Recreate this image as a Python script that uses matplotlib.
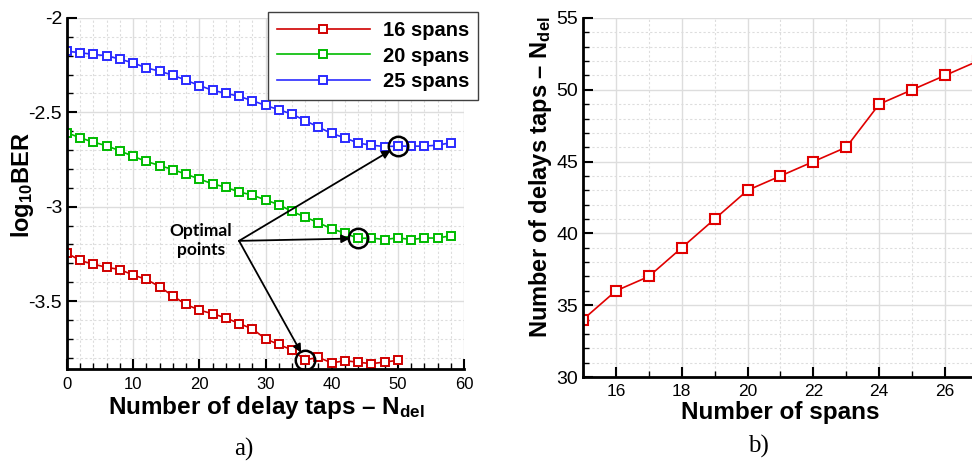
import matplotlib
matplotlib.use('Agg')
import matplotlib.pyplot as plt
from matplotlib.ticker import MultipleLocator, FuncFormatter

plt.rcParams.update({
    'font.family': ['Liberation Sans', 'DejaVu Sans'],
    'mathtext.fontset': 'custom',
    'mathtext.rm': 'Liberation Sans',
    'mathtext.bf': 'Liberation Sans:bold',
    'mathtext.it': 'Liberation Sans:italic',
    'mathtext.default': 'bf',
})

# ---------------- data (panel a) ----------------
taps_16 = list(range(0, 52, 2))
ber_16 = [-3.246, -3.285, -3.305, -3.321, -3.333, -3.362, -3.385, -3.424, -3.473,
          -3.518, -3.548, -3.567, -3.589, -3.619, -3.647, -3.700, -3.730, -3.759,
          -3.812, -3.798, -3.828, -3.816, -3.824, -3.832, -3.823, -3.814]
taps_20 = list(range(0, 60, 2))
ber_20 = [-2.608, -2.635, -2.658, -2.677, -2.704, -2.733, -2.760, -2.782, -2.803,
          -2.828, -2.853, -2.879, -2.897, -2.922, -2.938, -2.964, -2.989, -3.025,
          -3.055, -3.085, -3.117, -3.140, -3.168, -3.166, -3.174, -3.165, -3.174,
          -3.166, -3.166, -3.154]
taps_25 = list(range(0, 60, 2))
ber_25 = [-2.176, -2.184, -2.193, -2.200, -2.218, -2.238, -2.264, -2.282, -2.303,
          -2.330, -2.358, -2.383, -2.399, -2.415, -2.438, -2.463, -2.486, -2.509,
          -2.544, -2.578, -2.612, -2.635, -2.663, -2.674, -2.681, -2.679, -2.679,
          -2.679, -2.674, -2.661]
series_labels = ['16 spans', '20 spans', '25 spans']
opt_taps = [36, 44, 50]

# ---------------- data (panel b) ----------------
spans = [15, 16, 17, 18, 19, 20, 21, 22, 23, 24, 25, 26, 27]
opt_ndel = [34, 36, 37, 39, 41, 43, 44, 45, 46, 49, 50, 51, 52]

RED = '#D00000'
GREEN = '#00BB00'
BLUE = '#2B2BFF'

W, H = 972, 461
fig = plt.figure(figsize=(W / 100, H / 100), dpi=100)

ax1 = fig.add_axes([67 / W, 1 - 369 / H, 397 / W, (369 - 18) / H])
ax2 = fig.add_axes([583 / W, 1 - 377 / H, 389 / W, (377 - 18) / H])


def style(ax):
    for s in ['top', 'right']:
        ax.spines[s].set_visible(False)
    for s in ['left', 'bottom']:
        ax.spines[s].set_linewidth(2)
        ax.spines[s].set_color('black')
    ax.set_axisbelow(True)
    ax.grid(which='major', color='#dddddd', lw=1.0, ls='-')
    ax.grid(which='minor', color='#dddddd', lw=0.8, ls=(0, (2, 2)))
    ax.tick_params(which='major', direction='in', length=7, width=1.5)
    ax.tick_params(which='minor', direction='in', length=4, width=1)
    ax.tick_params(axis='y', labelsize=14)
    ax.tick_params(axis='x', labelsize=12.5)


fmt = FuncFormatter(lambda v, p: f'{v:g}')

# ---------------- panel a ----------------
style(ax1)
cols = [RED, GREEN, BLUE]
xs = [taps_16, taps_20, taps_25]
ys = [ber_16, ber_20, ber_25]
handles = []
for x, y, c, lab in zip(xs, ys, cols, series_labels):
    h, = ax1.plot(x, y, '-', color=c, lw=1.2, marker='s', ms=6, mfc='white',
                  mec=c, mew=1.4, label=lab)
    handles.append(h)

ax1.set_xlim(0, 60)
ax1.set_ylim(-3.86, -2)
ax1.xaxis.set_major_locator(MultipleLocator(10))
ax1.xaxis.set_minor_locator(MultipleLocator(2))
ax1.yaxis.set_major_locator(MultipleLocator(0.5))
ax1.yaxis.set_minor_locator(MultipleLocator(0.1))
ax1.xaxis.set_major_formatter(fmt)
ax1.yaxis.set_major_formatter(fmt)
ax1.tick_params(axis='x', pad=6, labelsize=12)

# optimal points
src = (26.0, -3.181)
for x, y, t in zip(xs[::-1], ys[::-1], opt_taps[::-1]):
    yy = y[x.index(t)]
    ax1.plot([t], [yy], 'o', ms=14, mfc='none', mec='black', mew=1.8, zorder=5)
    ax1.annotate('', xy=(t, yy), xytext=src,
                 arrowprops=dict(arrowstyle='-|>', color='black', lw=1.3,
                                 shrinkA=0, shrinkB=6, mutation_scale=12),
                 zorder=6)
ax1.text(20.25, -3.178, 'Optimal\npoints', ha='center', va='center',
         fontfamily=['Lato', 'DejaVu Sans'], fontweight='bold', fontsize=12.5,
         linespacing=1.25)

leg = ax1.legend(handles=handles, loc='upper left',
                 bbox_to_anchor=(268 / W, 1 - 12 / H),
                 bbox_transform=fig.transFigure, frameon=True, fancybox=False,
                 framealpha=1, edgecolor='#404040',
                 prop={'weight': 'bold', 'size': 14.5}, handlelength=4.6,
                 handletextpad=0.65, borderpad=0.45, labelspacing=0.32,
                 borderaxespad=0, numpoints=1)
leg.get_frame().set_linewidth(1.0)

# ---------------- panel b ----------------
style(ax2)
ax2.plot(spans, opt_ndel, '-', color='#E00000', lw=1.2, marker='s', ms=7.5,
         mfc='white', mec='#E00000', mew=1.5)
ax2.set_xlim(15, 26.82)
ax2.set_ylim(30, 55)
ax2.xaxis.set_major_locator(MultipleLocator(2))
ax2.xaxis.set_minor_locator(MultipleLocator(1))
ax2.yaxis.set_major_locator(MultipleLocator(5))
ax2.yaxis.set_minor_locator(MultipleLocator(1))
ax2.xaxis.set_major_formatter(fmt)
ax2.yaxis.set_major_formatter(fmt)
ax2.tick_params(axis='x', pad=5)

# ---------------- labels ----------------
fig.text(266 / W, 1 - 414 / H, r'Number of delay taps – N$_{del}$', ha='center',
         va='baseline', fontsize=17.5, fontweight='bold')
fig.text(780 / W, 1 - 419 / H, 'Number of spans', ha='center',
         va='baseline', fontsize=17.5, fontweight='bold')
fig.text(22 / W, 1 - 185 / H, r'log$_{10}$BER', rotation=90, ha='center',
         va='center', fontsize=17, fontweight='bold')
fig.text(541 / W, 1 - 177 / H, r'Number of delays taps – N$_{del}$', rotation=90,
         ha='center', va='center', fontsize=17, fontweight='bold')
fig.text(244 / W, 1 - 449 / H, 'a)', ha='center', va='center', fontsize=18,
         fontfamily=['Liberation Serif', 'DejaVu Serif'])
fig.text(758 / W, 1 - 446 / H, 'b)', ha='center', va='center', fontsize=18,
         fontfamily=['Liberation Serif', 'DejaVu Serif'])

fig.savefig('out.png', dpi=100)
